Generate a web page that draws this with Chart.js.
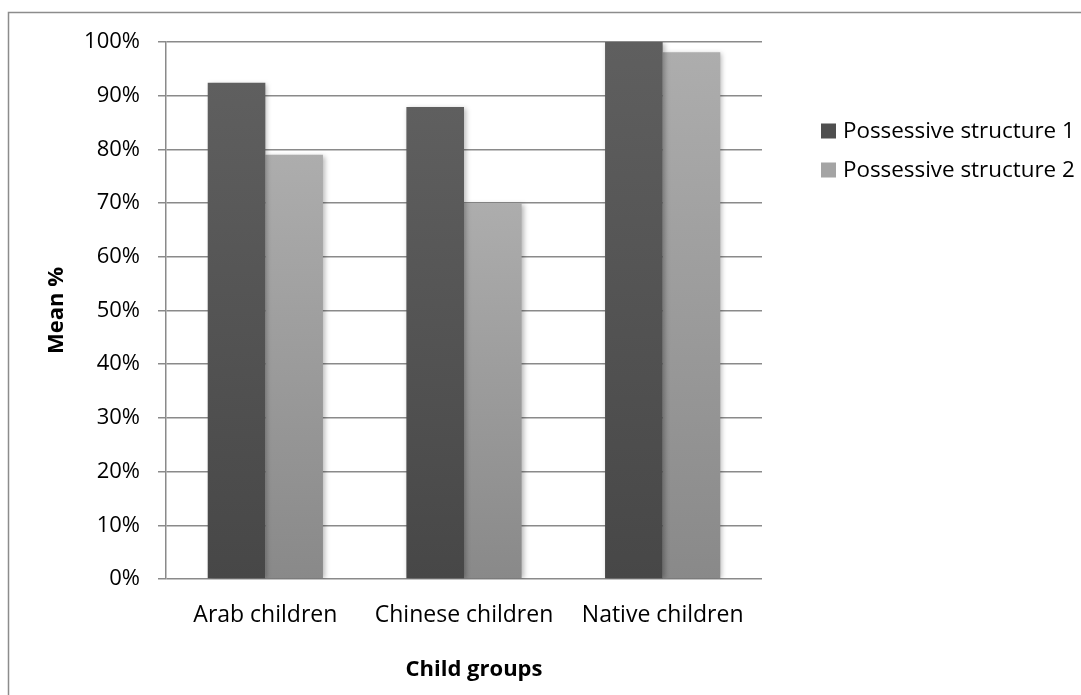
<!DOCTYPE html>
<html>
<head>
<meta charset="utf-8">
<script src="https://cdn.jsdelivr.net/npm/chart.js@4.4.1/dist/chart.umd.min.js"></script>
<style>
  html, body { margin: 0; padding: 0; background: #fff; }
  #wrap { width: 1081px; height: 695px; position: relative; }
</style>
</head>
<body>
<div id="wrap"><canvas id="c" width="1081" height="695"></canvas></div>
<script>
// Mean correctness (%) per child group for the two possessive structures
const categories = ['Arab children', 'Chinese children', 'Native children'];
const seriesNames = ['Possessive structure 1', 'Possessive structure 2'];
const structure1 = [92.4, 87.9, 100];
const structure2 = [79.0, 70.0, 98.1];
const yTicks = [0, 10, 20, 30, 40, 50, 60, 70, 80, 90, 100];
const xTitle = 'Child groups';
const yTitle = 'Mean %';

const FONT = '"Open Sans", "DejaVu Sans", sans-serif';
const GRID = '#8a8a8a';

// vertical gradient running from each bar's top down to the baseline
function barGradient(top, bottom) {
  return (ctx) => {
    const chart = ctx.chart;
    const y = chart.scales.y;
    if (!chart.chartArea || !y || ctx.raw == null) return top;
    const y0 = y.getPixelForValue(ctx.raw);
    const y1 = y.getPixelForValue(0);
    if (!isFinite(y0) || !isFinite(y1) || y0 === y1) return top;
    const g = chart.ctx.createLinearGradient(0, y0, 0, y1);
    g.addColorStop(0, top);
    g.addColorStop(1, bottom);
    return g;
  };
}

const swatches = ['#4f4f4f', '#a4a4a4'];

// outer frame of the figure (left and top edges)
const framePlugin = {
  id: 'frame',
  beforeDraw(chart) {
    const c = chart.ctx;
    c.save();
    c.strokeStyle = '#8c8c8c';
    c.lineWidth = 1.5;
    c.beginPath();
    c.moveTo(8.5, chart.height + 2);
    c.lineTo(8.5, 12.5);
    c.lineTo(chart.width + 2, 12.5);
    c.stroke();
    c.restore();
  }
};

// soft drop shadow under the bars
const shadowPlugin = {
  id: 'barShadow',
  beforeDatasetsDraw(chart) {
    const c = chart.ctx;
    c.save();
    c.shadowColor = 'rgba(0,0,0,0.28)';
    c.shadowBlur = 5;
    c.shadowOffsetX = 2;
    c.shadowOffsetY = 1;
  },
  afterDatasetsDraw(chart) {
    chart.ctx.restore();
  }
};

// legend at the right (swatch + series name) and the category-axis title
const sideLegend = {
  id: 'sideLegend',
  afterDraw(chart) {
    const c = chart.ctx;
    c.save();
    c.font = '22.4px ' + FONT;
    c.textBaseline = 'middle';
    chart.data.datasets.forEach((ds, i) => {
      const cy = 131 + i * 39;
      c.fillStyle = swatches[i];
      c.fillRect(821, cy - 7.5, 15, 15);
      c.fillStyle = '#000';
      c.fillText(ds.label, 843, cy + 1);
    });
    const area = chart.chartArea;
    c.font = 'bold 22px ' + FONT;
    c.textAlign = 'center';
    c.fillStyle = '#000';
    c.fillText(xTitle, (area.left + area.right) / 2 + 10, 670);
    c.restore();
  }
};

new Chart(document.getElementById('c'), {
  type: 'bar',
  data: {
    labels: categories,
    datasets: [
      {
        label: seriesNames[0],
        data: structure1,
        backgroundColor: barGradient('#5f5f5f', '#474747'),
        borderWidth: 0
      },
      {
        label: seriesNames[1],
        data: structure2,
        backgroundColor: barGradient('#adadad', '#898989'),
        borderWidth: 0
      }
    ]
  },
  options: {
    responsive: false,
    animation: false,
    devicePixelRatio: 1,
    layout: { padding: { left: 0, top: 42, right: 319, bottom: 0 } },
    datasets: { bar: { categoryPercentage: 0.58, barPercentage: 1.0 } },
    plugins: {
      legend: { display: false },
      tooltip: { enabled: false }
    },
    scales: {
      x: {
        grid: { display: false, drawTicks: false },
        border: { display: false },
        ticks: {
          color: '#000',
          font: { family: FONT, size: 23 },
          padding: 23,
          maxRotation: 0
        },
        title: { display: false },
        afterFit(s) { s.height = 116; }
      },
      y: {
        min: 0,
        max: 100,
        afterBuildTicks(s) { s.ticks = yTicks.map(v => ({ value: v })); },
        grid: { color: GRID, lineWidth: 1.5, tickLength: 8, drawTicks: true },
        border: { display: true, color: GRID, width: 1.5 },
        ticks: {
          color: '#000',
          font: { family: FONT, size: 22 },
          padding: 18,
          callback: (v) => v + '%'
        },
        title: {
          display: true,
          text: yTitle,
          color: '#000',
          font: { family: FONT, size: 22, weight: 'bold' },
          padding: { top: 44, bottom: 0 }
        },
        afterFit(s) { s.width = 166; }
      }
    }
  },
  plugins: [framePlugin, shadowPlugin, sideLegend]
});
</script>
</body>
</html>
